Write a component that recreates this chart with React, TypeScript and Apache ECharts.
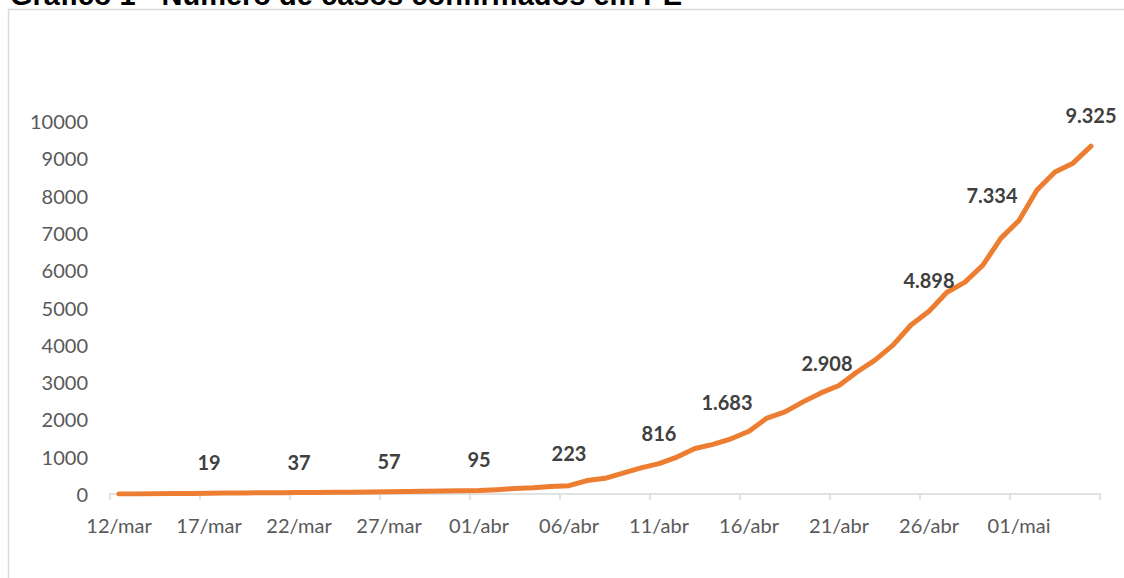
import React, { useEffect, useRef } from "react";
import * as echarts from "echarts";

const titleText = "Gráfico 1 - Número de casos confirmados em PE";

const dates = [
  "12/mar", "13/mar", "14/mar", "15/mar", "16/mar", "17/mar", "18/mar", "19/mar", "20/mar", "21/mar",
  "22/mar", "23/mar", "24/mar", "25/mar", "26/mar", "27/mar", "28/mar", "29/mar", "30/mar", "31/mar",
  "01/abr", "02/abr", "03/abr", "04/abr", "05/abr", "06/abr", "07/abr", "08/abr", "09/abr", "10/abr",
  "11/abr", "12/abr", "13/abr", "14/abr", "15/abr", "16/abr", "17/abr", "18/abr", "19/abr", "20/abr",
  "21/abr", "22/abr", "23/abr", "24/abr", "25/abr", "26/abr", "27/abr", "28/abr", "29/abr", "30/abr",
  "01/mai", "02/mai", "03/mai", "04/mai", "05/mai",
];

const cases = [
  2, 2, 7, 13, 16, 19, 28, 30, 33, 34,
  37, 42, 46, 48, 53, 57, 68, 73, 78, 84,
  95, 117, 148, 166, 201, 223, 360, 420, 560, 700,
  816, 990, 1220, 1330, 1480, 1683, 2036, 2200, 2470, 2710,
  2908, 3270, 3590, 3990, 4530, 4898, 5410, 5680, 6140, 6860,
  7334, 8150, 8630, 8870, 9325,
];

const labeledDates = ["17/mar", "22/mar", "27/mar", "01/abr", "06/abr", "11/abr", "16/abr", "21/abr", "26/abr", "01/mai", "05/mai"];
const labelShifts: Record<string, [number, number]> = {
  "06/abr": [0, -2],
  "16/abr": [-22, 2],
  "21/abr": [-12, 8],
  "01/mai": [-27, 6],
};

const yMin = 0;
const yMax = 10000;
const yStep = 1000;

const fmtBR = (v: number) => String(v).replace(/\B(?=(\d{3})+(?!\d))/g, ".");

export default function App() {
  const ref = useRef<HTMLDivElement>(null);
  useEffect(() => {
    if (!ref.current) return;
    const chart = echarts.init(ref.current, null, { renderer: "svg" });
    const data = cases.map((v, i) => {
      const d = dates[i];
      if (labeledDates.includes(d)) {
        return {
          value: v,
          label: { show: true, offset: labelShifts[d] || [0, 0] },
        };
      }
      return { value: v };
    });
    chart.setOption({
      animation: false,
      backgroundColor: "#ffffff",
      graphic: [
        {
          type: "rect",
          shape: { x: 8.5, y: 9.5, width: 1200, height: 700 },
          style: { fill: "none", stroke: "#d9d9d9", lineWidth: 1.5 },
          silent: true,
        },
        {
          type: "text",
          x: 10,
          y: 9,
          style: {
            text: titleText,
            font: "bold 29px 'Liberation Sans', Arial, sans-serif",
            fill: "#000000",
            verticalAlign: "bottom",
          },
        },
      ],
      grid: { left: 110, right: 24, top: 121, bottom: 84, containLabel: false },
      xAxis: {
        type: "category",
        data: dates,
        boundaryGap: true,
        axisLine: { show: true, lineStyle: { color: "#d9d9d9", width: 1.5 } },
        axisTick: { show: true, interval: 4, length: 6, lineStyle: { color: "#d9d9d9", width: 1.5 } },
        axisLabel: {
          interval: 4,
          margin: 21,
          color: "#595959",
          fontSize: 20,
          fontFamily: "Lato, sans-serif",
        },
      },
      yAxis: {
        type: "value",
        min: yMin,
        max: yMax,
        interval: yStep,
        axisLine: { show: false },
        axisTick: { show: false },
        splitLine: { show: false },
        axisLabel: {
          margin: 22,
          color: "#595959",
          fontSize: 20,
          fontFamily: "Lato, sans-serif",
          formatter: (v: number) => String(v),
        },
      },
      series: [
        {
          type: "line",
          data,
          symbol: "circle",
          symbolSize: 2,
          showSymbol: true,
          itemStyle: { color: "#ED7D31" },
          lineStyle: { color: "#ED7D31", width: 5, cap: "round", join: "round" },
          label: {
            show: false,
            position: "top",
            distance: 20,
            color: "#404040",
            fontSize: 20,
            fontWeight: "bold",
            fontFamily: "Lato, sans-serif",
            formatter: (p: any) => fmtBR(p.value),
          },
        },
      ],
    });
    return () => chart.dispose();
  }, []);
  return (
    <div
      ref={ref}
      style={{ position: "fixed", left: 0, top: 0, width: 1124, height: 578, background: "#fff" }}
    />
  );
}
